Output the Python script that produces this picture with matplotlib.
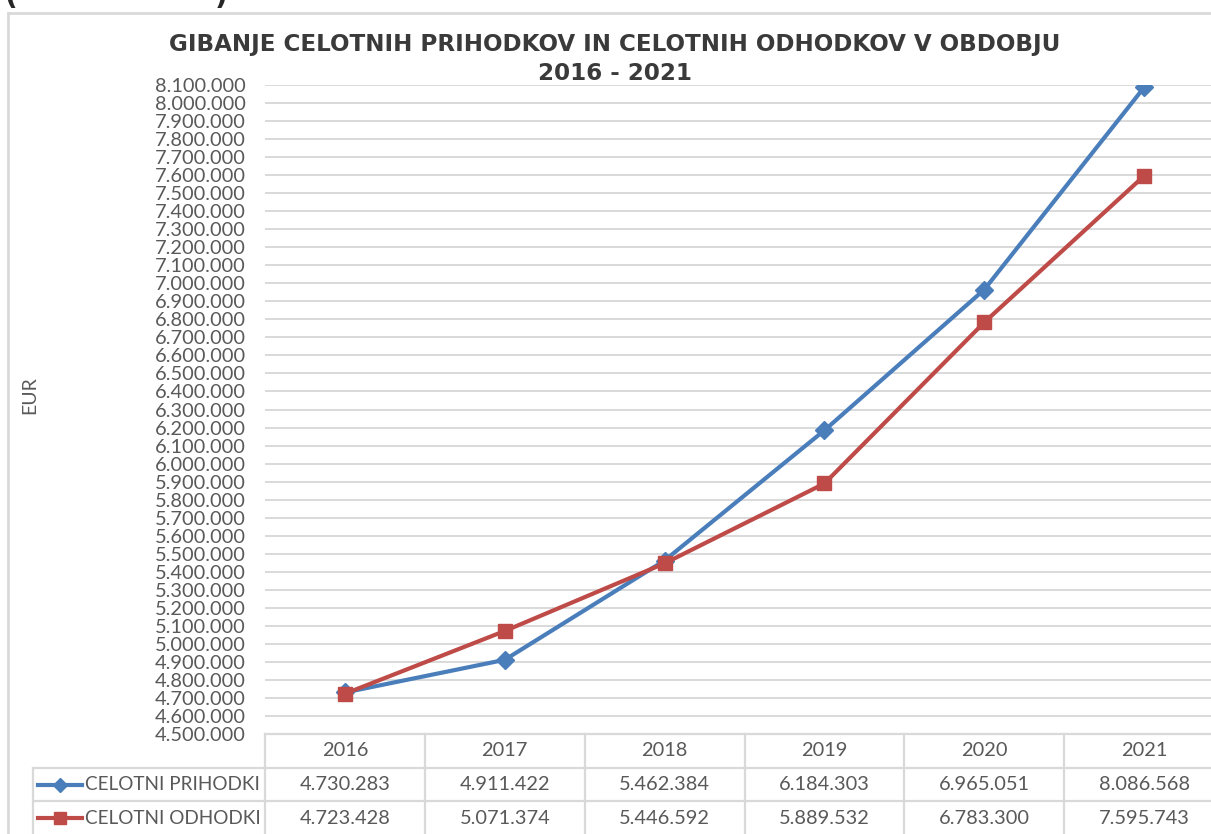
import matplotlib
matplotlib.use("Agg")
import matplotlib.pyplot as plt
from matplotlib.lines import Line2D
from matplotlib.ticker import MultipleLocator, FuncFormatter

years = ["2016", "2017", "2018", "2019", "2020", "2021"]
prihodki = [4730283, 4911422, 5462384, 6184303, 6965051, 8086568]
odhodki = [4723428, 5071374, 5446592, 5889532, 6783300, 7595743]
series_names = ["CELOTNI PRIHODKI", "CELOTNI ODHODKI"]
title_lines = ["GIBANJE CELOTNIH PRIHODKOV IN CELOTNIH ODHODKOV V OBDOBJU",
               "2016 - 2021"]
y_label = "EUR"
y_min, y_max, y_step = 4500000, 8100000, 100000

BLUE = "#4a7ebb"
RED = "#be4b48"
GRID = "#d9d9d9"
TXT = "#595959"
FONT = "Lato"

W, H = 1211, 834
fig = plt.figure(figsize=(W / 100, H / 100), dpi=100)

def fx(px):
    return px / W

def fy(py):
    return 1 - py / H

ax_l, ax_r, ax_t, ax_b = 265, 1224, 85, 734
ax = fig.add_axes([fx(ax_l), fy(ax_b), (ax_r - ax_l) / W, (ax_b - ax_t) / H])

def fmt(v, pos=None):
    return f"{int(v):,}".replace(",", ".")

x = list(range(len(years)))
ax.plot(x, prihodki, color=BLUE, lw=3.0, marker="D", ms=9, zorder=3,
        solid_joinstyle="round")
ax.plot(x, odhodki, color=RED, lw=3.0, marker="s", ms=10.5, zorder=4,
        solid_joinstyle="round")

ax.set_xlim(-0.5, len(years) - 0.5)
ax.set_ylim(y_min, y_max)
ax.yaxis.set_major_locator(MultipleLocator(y_step))
ax.yaxis.set_major_formatter(FuncFormatter(fmt))
ax.grid(axis="y", color=GRID, lw=1.4)
ax.set_axisbelow(True)
ax.set_xticks([])
ax.tick_params(axis="y", length=0, pad=14, labelsize=14.4, labelcolor=TXT)
for lab in ax.get_yticklabels():
    lab.set_fontfamily(FONT)
for s in ["top", "right", "left"]:
    ax.spines[s].set_visible(False)
ax.spines["bottom"].set_color(GRID)
ax.spines["bottom"].set_linewidth(1.6)

# title (two lines) and axis label
for line, yy in zip(title_lines, (45, 73)):
    fig.text(fx(615), fy(yy), line, ha="center", va="center", fontsize=16.6,
             fontweight="bold", color="#3a3a3a", family="DejaVu Sans")
fig.text(fx(30), fy(395), y_label, rotation=90, ha="center", va="center",
         fontsize=14, color=TXT, family=FONT)

# chart border (left and top visible)
fig.add_artist(Line2D([fx(8), fx(8)], [fy(13), 0], color=GRID, lw=2))
fig.add_artist(Line2D([fx(8), 1], [fy(13), fy(13)], color=GRID, lw=2))

# partial text above the chart (cropped in the reference)
fig.text(fx(5), fy(11), "(", ha="left", va="bottom", fontsize=20,
         fontweight="bold", color="#262626")
fig.text(fx(215), fy(11), ")", ha="left", va="bottom", fontsize=20,
         fontweight="bold", color="#262626")

# data table
col_w = (ax_r - ax_l) / len(years)
tab_left = 33
lkw = dict(color=GRID, lw=1.6)
for yy in (768, 801):
    fig.add_artist(Line2D([fx(tab_left), 1], [fy(yy), fy(yy)], **lkw))
for i in range(len(years) + 1):
    xx = ax_l + i * col_w
    fig.add_artist(Line2D([fx(xx), fx(xx)], [fy(734), 0], **lkw))
fig.add_artist(Line2D([fx(tab_left), fx(tab_left)], [fy(768), 0], **lkw))

tkw = dict(ha="center", va="center", fontsize=14.4, color=TXT, family=FONT)
for i, yr in enumerate(years):
    cx = ax_l + (i + 0.5) * col_w
    fig.text(fx(cx), fy(751), yr, **tkw)
    fig.text(fx(cx), fy(785), fmt(prihodki[i]), **tkw)
    fig.text(fx(cx), fy(818), fmt(odhodki[i]), **tkw)

for name, ry, col, mk, ms in [(series_names[0], 785, BLUE, "D", 7),
                               (series_names[1], 818, RED, "s", 9)]:
    fig.add_artist(Line2D([fx(38), fx(82)], [fy(ry), fy(ry)], color=col, lw=3))
    fig.add_artist(Line2D([fx(60)], [fy(ry)], color=col, marker=mk, ms=ms, lw=0))
    fig.text(fx(85), fy(ry), name, ha="left", va="center", fontsize=13.6,
             color=TXT, family=FONT)

fig.savefig("out.png", dpi=100)
